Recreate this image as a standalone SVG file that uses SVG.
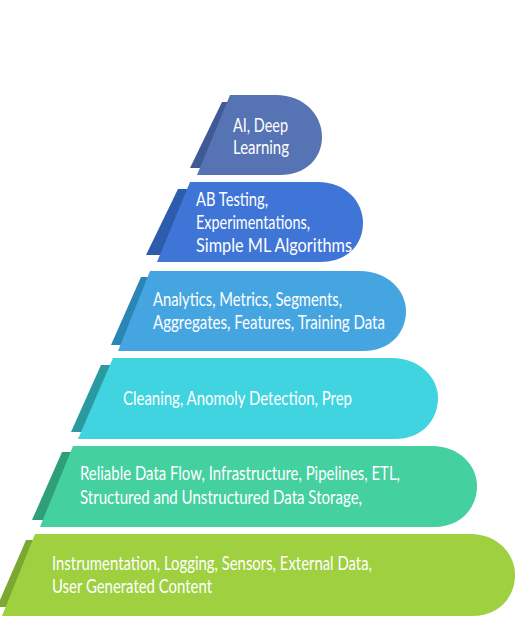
<svg xmlns="http://www.w3.org/2000/svg" width="520" height="640" viewBox="0 0 520 640">
<style>
.t{font-family:Lato,"Open Sans","Liberation Sans",sans-serif;font-size:18.5px;fill:#ffffff;}
</style>
<rect width="520" height="640" fill="#ffffff"/>
<g id="tier1">
<polygon points="222,102 243,102 211,168 190,168" fill="#3f5a94"/>
<path d="M230,95 L276,95 C304,95 322,115 322,137 C322,158 306,175 280,175 L197,175 Z" fill="#5673b3"/>
<text class="t" x="233" y="132" textLength="55" lengthAdjust="spacingAndGlyphs">AI, Deep</text>
<text class="t" x="233" y="154" textLength="56" lengthAdjust="spacingAndGlyphs">Learning</text>
</g>
<g id="tier2">
<polygon points="178,189 199,189 168,255 146,255" fill="#2d5cad"/>
<path d="M190,182 L318,182 C346,182 363,202 363,223 C363,245 347,262 320,262 L157,262 Z" fill="#3f75d6"/>
<text class="t" x="196" y="206" textLength="72" lengthAdjust="spacingAndGlyphs">AB Testing,</text>
<text class="t" x="196" y="229" textLength="114" lengthAdjust="spacingAndGlyphs">Experimentations,</text>
<text class="t" x="196" y="252" textLength="156" lengthAdjust="spacingAndGlyphs">Simple ML Algorithms</text>
</g>
<g id="tier3">
<polygon points="141,277 162,277 132,345 111,345" fill="#2b85b5"/>
<path d="M150,271 L360,271 C388,271 406,291 406,311 C406,333 390,351 363,351 L118,351 Z" fill="#45a5e0"/>
<text class="t" x="153" y="306" textLength="189" lengthAdjust="spacingAndGlyphs">Analytics, Metrics, Segments,</text>
<text class="t" x="153" y="329" textLength="232" lengthAdjust="spacingAndGlyphs">Aggregates, Features, Training Data</text>
</g>
<g id="tier4">
<polygon points="101,365 122,365 92,432 71,432" fill="#2a9aa0"/>
<path d="M113,358 L392,358 C420,358 438,378 438,398 C438,420 422,439 395,439 L78,439 Z" fill="#40d3e0"/>
<text class="t" x="123" y="405" textLength="229" lengthAdjust="spacingAndGlyphs">Cleaning, Anomoly Detection, Prep</text>
</g>
<g id="tier5">
<polygon points="62,452 83,452 53,520 32,520" fill="#2f9f78"/>
<path d="M73,446 L432,446 C460,446 477,466 477,486 C477,508 461,527 434,527 L40,527 Z" fill="#45d0a0"/>
<text class="t" x="80" y="480" textLength="320" lengthAdjust="spacingAndGlyphs">Reliable Data Flow, Infrastructure, Pipelines, ETL,</text>
<text class="t" x="80" y="504" textLength="282" lengthAdjust="spacingAndGlyphs">Structured and Unstructured Data Storage,</text>
</g>
<g id="tier6">
<polygon points="26,540 47,540 18,607 -3,607" fill="#7aa832"/>
<path d="M35,534 L470,534 C498,534 515,554 515,575 C515,597 499,616 472,616 L2,616 Z" fill="#9ed040"/>
<text class="t" x="52" y="570" textLength="320" lengthAdjust="spacingAndGlyphs">Instrumentation, Logging, Sensors, External Data,</text>
<text class="t" x="52" y="593" textLength="160" lengthAdjust="spacingAndGlyphs">User Generated Content</text>
</g>
<g id="connectors"></g>
</svg>
